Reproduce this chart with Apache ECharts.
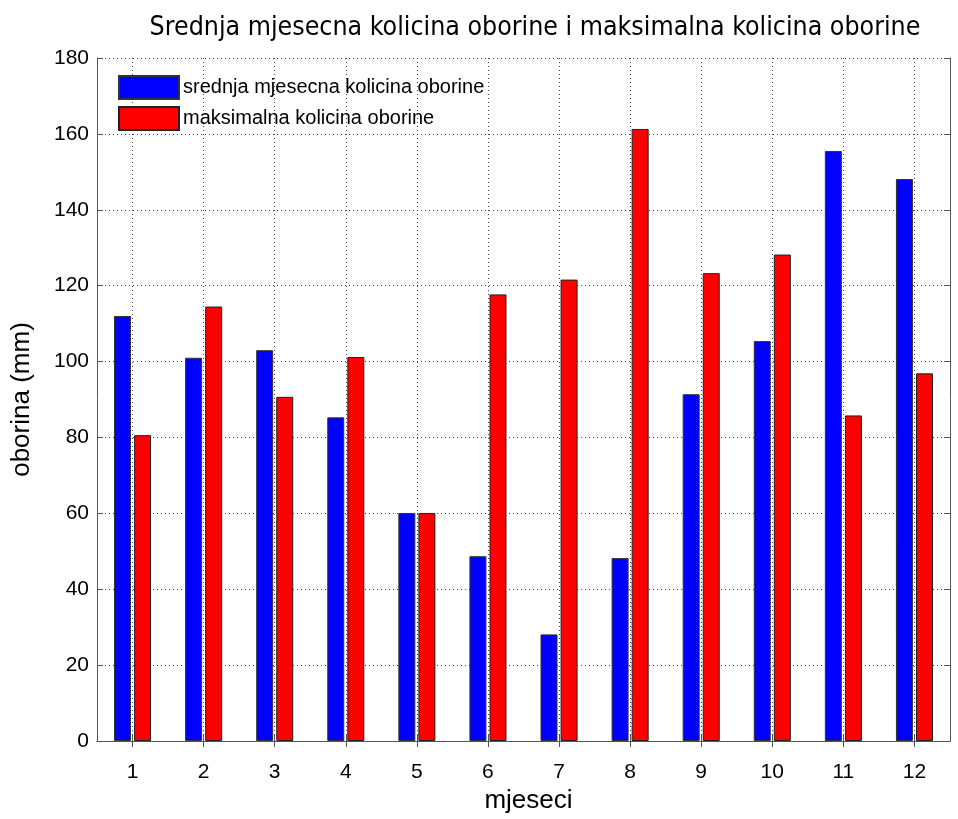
<!DOCTYPE html>
<html>
<head>
<meta charset="utf-8">
<script src="https://cdn.jsdelivr.net/npm/echarts@6/dist/echarts.min.js"></script>
<style>html,body{margin:0;padding:0;background:#fff;}#c{width:958px;height:819px;}</style>
</head>
<body>
<div id="c"></div>
<script>
const months = ['1','2','3','4','5','6','7','8','9','10','11','12'];
const srednja = [112.0, 101.0, 103.0, 85.3, 60.1, 48.7, 28.1, 48.2, 91.4, 105.4, 155.5, 148.1];
const maksimalna = [80.6, 114.5, 90.7, 101.2, 60.1, 117.7, 121.6, 161.3, 123.3, 128.2, 85.8, 96.9];
const yTicks = {min: 0, max: 180, interval: 20};

const FONT = 'Liberation Sans';
const NARROW = '"Liberation Sans Narrow", "DejaVu Sans Condensed", "Liberation Sans"';
const axisGray = '#555';
const gridLine = {show: true, lineStyle: {color: '#444', type: [1, 3], width: 1}};

const chart = echarts.init(document.getElementById('c'), null, {renderer: 'canvas'});
chart.setOption({
  animation: false,
  backgroundColor: '#fff',
  title: {
    text: 'Srednja mjesecna kolicina oborine i maksimalna kolicina oborine',
    left: 530, textAlign: 'center', top: 10,
    textStyle: {fontFamily: NARROW, fontSize: 26.5, fontWeight: 'normal', color: '#000'}
  },
  legend: {
    orient: 'vertical', left: 113, top: 70,
    itemWidth: 60, itemHeight: 23, itemGap: 6,
    icon: 'rect',
    textStyle: {fontFamily: FONT, fontSize: 20, color: '#000', padding: [0, 0, 0, -1]},
    data: ['srednja mjesecna kolicina oborine', 'maksimalna kolicina oborine']
  },
  grid: {left: 97, right: 8, top: 58, bottom: 76, containLabel: false},
  xAxis: [{
    type: 'category', data: months, position: 'bottom',
    name: 'mjeseci', nameLocation: 'middle', nameGap: 47,
    nameTextStyle: {fontFamily: FONT, fontSize: 26, color: '#000', padding: [0, 0, 0, 10]},
    axisLine: {show: true, lineStyle: {color: axisGray, width: 1}},
    axisTick: {show: true, inside: true, alignWithLabel: true, length: 6, lineStyle: {color: axisGray}},
    axisLabel: {fontFamily: FONT, fontSize: 21, color: '#000', margin: 21},
    splitLine: Object.assign({alignWithLabel: true}, gridLine)
  }, {
    type: 'category', data: months, position: 'top',
    axisLine: {show: true, lineStyle: {color: axisGray, width: 1}},
    axisTick: {show: true, inside: true, alignWithLabel: true, length: 6, lineStyle: {color: axisGray}},
    axisLabel: {show: false}, splitLine: {show: false}
  }],
  yAxis: [{
    type: 'value', min: yTicks.min, max: yTicks.max, interval: yTicks.interval, position: 'left',
    name: 'oborina (mm)', nameLocation: 'middle', nameGap: 62,
    nameTextStyle: {fontFamily: FONT, fontSize: 26, color: '#000'},
    axisLine: {show: true, lineStyle: {color: axisGray, width: 1}},
    axisTick: {show: true, inside: true, length: 6, lineStyle: {color: axisGray}},
    axisLabel: {fontFamily: FONT, fontSize: 21, color: '#000', margin: 8},
    splitLine: gridLine
  }, {
    type: 'value', min: yTicks.min, max: yTicks.max, interval: yTicks.interval, position: 'right',
    axisLine: {show: true, lineStyle: {color: axisGray, width: 1}},
    axisTick: {show: true, inside: true, length: 6, lineStyle: {color: axisGray}},
    axisLabel: {show: false}, splitLine: {show: false}
  }],
  series: [{
    name: 'srednja mjesecna kolicina oborine', type: 'bar', data: srednja,
    xAxisIndex: 0, yAxisIndex: 0,
    barWidth: 17, barGap: '18%',
    itemStyle: {color: '#0000ff', borderColor: '#333', borderWidth: 1}
  }, {
    name: 'maksimalna kolicina oborine', type: 'bar', data: maksimalna,
    xAxisIndex: 0, yAxisIndex: 0,
    barWidth: 17, barGap: '18%',
    itemStyle: {color: '#ff0000', borderColor: '#222', borderWidth: 1}
  }]
});
</script>
</body>
</html>
